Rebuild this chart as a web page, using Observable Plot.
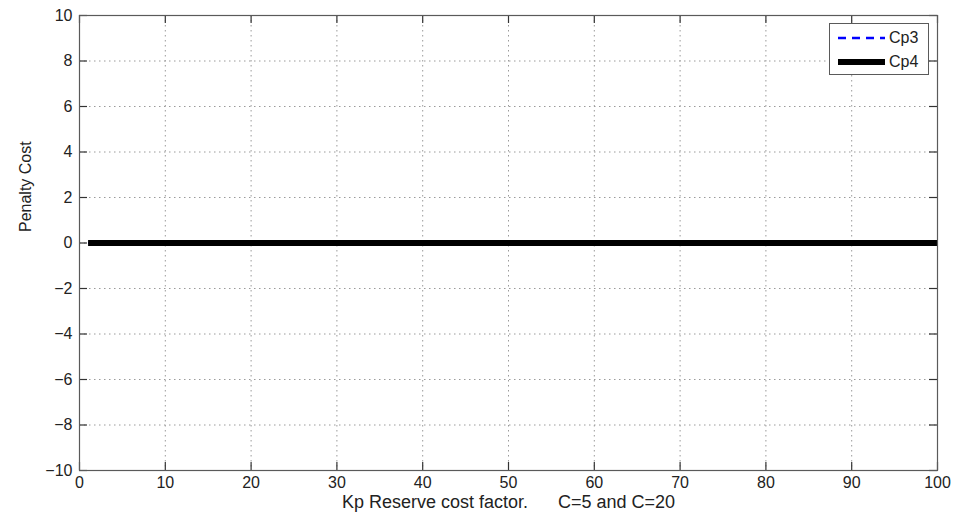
<!DOCTYPE html>
<html>
<head>
<meta charset="utf-8">
<script src="https://cdn.jsdelivr.net/npm/d3@7"></script>
<script src="https://cdn.jsdelivr.net/npm/@observablehq/plot@0.6"></script>
<style>
  html, body { margin: 0; padding: 0; background: #fff; }
  #wrap { position: relative; width: 962px; height: 517px; font-family: "Liberation Sans", Arial, sans-serif; }
  #legend { position: absolute; left: 829px; top: 23px; width: 100px; height: 52px; border: 1px solid #5a5a5a; background: #fff; box-sizing: border-box; }
  .row { position: absolute; left: 0; height: 20px; display: flex; align-items: center; font-size: 16px; color: #222; }
  .row svg { margin-left: 8px; margin-right: 4px; }
</style>
</head>
<body>
<div id="wrap"></div>
<script>
// Data
const kp = [1, 100];               // Kp Reserve cost factor range plotted
const cp3 = [0, 0];                // Penalty cost Cp3
const cp4 = [0, 0];                // Penalty cost Cp4
const xTicks = [0, 10, 20, 30, 40, 50, 60, 70, 80, 90, 100];
const yTicks = [-10, -8, -6, -4, -2, 0, 2, 4, 6, 8, 10];
const seriesNames = ["Cp3", "Cp4"];
const xLabel = "Kp Reserve cost factor.      C=5 and C=20";
const yLabel = "Penalty Cost";

const W = 962, H = 517;
const mL = 79, mR = 25, mT = 15, mB = 47;
const plotH = H - mT - mB;
const plotW = W - mL - mR;
const tickLen = 8;
const xDom = [0, 100], yDom = [-10, 10];
const tx = tickLen * (xDom[1] - xDom[0]) / plotW;  // tick length in x units
const ty = tickLen * (yDom[1] - yDom[0]) / plotH;  // tick length in y units

const rows3 = kp.map((k, i) => ({x: k, y: cp3[i]}));
const rows4 = kp.map((k, i) => ({x: k, y: cp4[i]}));

const gridColor = "#9a9a9a";
const axisColor = "#5a5a5a";
const tickColor = "#333";
const textColor = "#222";

const chart = Plot.plot({
  width: W, height: H,
  marginLeft: mL, marginRight: mR, marginTop: mT, marginBottom: mB,
  style: {fontFamily: "'Liberation Sans', Arial, sans-serif", fontSize: "16px", color: textColor, background: "#fff"},
  x: {domain: xDom, ticks: xTicks},
  y: {domain: yDom, ticks: yTicks},
  marks: [
    // dotted grid
    Plot.ruleX(xTicks, {x: d => d, stroke: gridColor, strokeDasharray: "1.5,3.5", strokeWidth: 1}),
    Plot.ruleY(yTicks, {y: d => d, stroke: gridColor, strokeDasharray: "1.5,3.5", strokeWidth: 1}),
    // inward ticks, bottom & top
    Plot.ruleX(xTicks, {x: d => d, y1: yDom[0], y2: yDom[0] + ty, stroke: tickColor, strokeWidth: 1.2}),
    Plot.ruleX(xTicks, {x: d => d, y1: yDom[1], y2: yDom[1] - ty, stroke: tickColor, strokeWidth: 1.2}),
    // inward ticks, left & right
    Plot.ruleY(yTicks, {y: d => d, x1: xDom[0], x2: xDom[0] + tx, stroke: tickColor, strokeWidth: 1.2}),
    Plot.ruleY(yTicks, {y: d => d, x1: xDom[1], x2: xDom[1] - tx, stroke: tickColor, strokeWidth: 1.2}),
    // series
    Plot.line(rows3, {x: "x", y: "y", stroke: "#0000ff", strokeWidth: 2, strokeDasharray: "8,6", strokeLinecap: "butt"}),
    Plot.line(rows4, {x: "x", y: "y", stroke: "#000", strokeWidth: 6, strokeLinecap: "butt"}),
    Plot.frame({stroke: axisColor, strokeWidth: 1.2}),
    // axes
    Plot.axisX(xTicks, {tickSize: 0, tickPadding: 6, label: null, fill: textColor}),
    Plot.axisY(yTicks, {tickSize: 0, tickPadding: 7, label: null, fill: textColor}),
    // axis titles
    Plot.text([xLabel], {text: d => d, frameAnchor: "bottom", dy: 37, fill: textColor, fontSize: 18}),
    Plot.text([yLabel], {text: d => d, frameAnchor: "left", dx: -54, dy: -11, rotate: -90, fill: textColor, fontSize: 16})
  ]
});

const wrap = document.getElementById("wrap");
wrap.appendChild(chart);

// legend
const legend = document.createElement("div");
legend.id = "legend";
const styles = [
  {stroke: "#0000ff", width: 2.5, dash: "8,6"},
  {stroke: "#000", width: 6, dash: null}
];
seriesNames.forEach((name, i) => {
  const row = document.createElement("div");
  row.className = "row";
  row.style.top = (4 + i * 24) + "px";
  const s = styles[i];
  row.innerHTML = `<svg width="47" height="12"><line x1="0" x2="47" y1="6" y2="6" stroke="${s.stroke}" stroke-width="${s.width}" ${s.dash ? `stroke-dasharray="${s.dash}"` : ""}/></svg><span>${name}</span>`;
  legend.appendChild(row);
});
wrap.appendChild(legend);
</script>
</body>
</html>
